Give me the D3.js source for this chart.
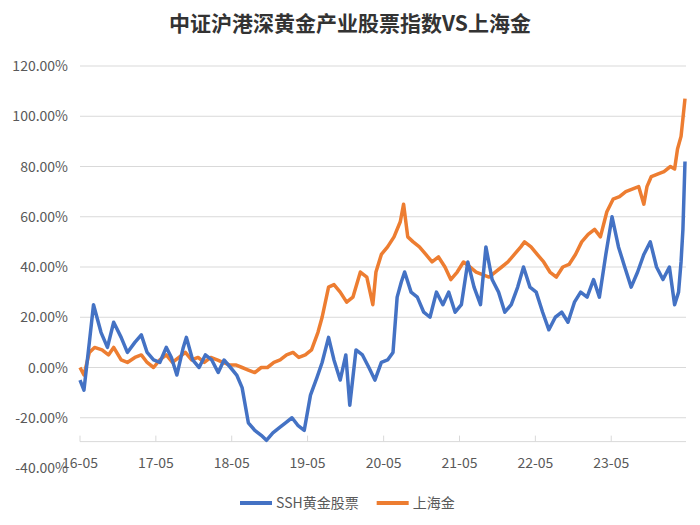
<!DOCTYPE html>
<html><head><meta charset="utf-8">
<script src="https://cdn.jsdelivr.net/npm/d3@7"></script>
<style>body{margin:0;background:#fff;font-family:"Noto Sans CJK SC","Noto Sans",sans-serif;}</style>
</head><body><div id="chart"></div>
<script>
// month keys and values (%)
const ssh = [
["2016-05-01",-5],["2016-05-20",-9],["2016-06-15",10],["2016-07-05",25],["2016-08-10",14],["2016-09-10",8],["2016-10-10",18],["2016-11-15",12],["2016-12-15",6],
["2017-01-20",10],["2017-02-20",13],["2017-03-20",6],["2017-04-20",3],["2017-05-20",2],["2017-06-20",8],["2017-07-15",4],["2017-08-10",-3],["2017-09-10",8],["2017-09-25",12],["2017-10-25",3],["2017-11-25",0],["2017-12-25",5],
["2018-01-25",3],["2018-02-25",-2],["2018-03-25",3],["2018-04-25",0],["2018-05-25",-3],["2018-06-20",-8],["2018-07-20",-22],["2018-08-20",-25],["2018-09-20",-27],["2018-10-15",-29],["2018-11-15",-26],["2018-12-15",-24],
["2019-01-15",-22],["2019-02-15",-20],["2019-03-15",-23],["2019-04-15",-25],["2019-05-15",-11],["2019-06-15",-4],["2019-07-10",2],["2019-08-10",12],["2019-09-05",3],["2019-10-05",-5],["2019-11-01",5],["2019-11-20",-15],["2019-12-20",7],
["2020-01-20",5],["2020-02-20",0],["2020-03-20",-5],["2020-04-20",2],["2020-05-20",3],["2020-06-15",6],["2020-07-05",28],["2020-07-25",34],["2020-08-10",38],["2020-09-10",30],["2020-10-10",28],["2020-11-10",22],["2020-12-10",20],
["2021-01-10",30],["2021-02-10",25],["2021-03-10",30],["2021-04-10",22],["2021-05-10",25],["2021-06-10",42],["2021-07-10",32],["2021-08-10",25],["2021-09-05",48],["2021-10-05",35],["2021-11-05",30],["2021-12-05",22],
["2022-01-05",25],["2022-02-05",32],["2022-03-05",40],["2022-04-05",32],["2022-05-05",30],["2022-06-05",22],["2022-07-05",15],["2022-08-05",20],["2022-09-05",22],["2022-10-05",18],["2022-11-05",26],["2022-12-05",30],
["2023-01-05",28],["2023-02-05",35],["2023-03-05",28],["2023-04-05",45],["2023-05-05",60],["2023-06-05",48],["2023-07-05",40],["2023-08-05",32],["2023-09-05",38],["2023-10-05",45],["2023-11-05",50],["2023-12-05",40],
["2024-01-05",35],["2024-02-05",40],["2024-03-01",25],["2024-03-20",30],["2024-04-01",42],["2024-04-10",55],["2024-04-20",82]
];
const gold = [
["2016-05-01",0],["2016-05-20",-3],["2016-06-15",6],["2016-07-10",8],["2016-08-15",7],["2016-09-15",5],["2016-10-10",8],["2016-11-15",3],["2016-12-15",2],
["2017-01-20",4],["2017-02-20",5],["2017-03-20",2],["2017-04-20",0],["2017-05-20",3],["2017-06-20",5],["2017-07-20",2],["2017-08-20",4],["2017-09-20",6],["2017-10-20",3],["2017-11-20",4],["2017-12-20",2],
["2018-01-20",4],["2018-02-20",3],["2018-03-20",2],["2018-04-20",1],["2018-05-20",1],["2018-06-20",0],["2018-07-20",-1],["2018-08-20",-2],["2018-09-20",0],["2018-10-20",0],["2018-11-20",2],["2018-12-20",3],
["2019-01-20",5],["2019-02-20",6],["2019-03-20",4],["2019-04-20",5],["2019-05-20",7],["2019-06-20",14],["2019-07-10",20],["2019-08-10",32],["2019-09-05",33],["2019-10-05",30],["2019-11-05",26],["2019-12-05",28],
["2020-01-10",38],["2020-02-10",36],["2020-03-10",25],["2020-03-25",38],["2020-04-20",45],["2020-05-20",48],["2020-06-20",52],["2020-07-20",58],["2020-08-05",65],["2020-08-25",52],["2020-09-20",50],["2020-10-20",48],["2020-11-20",45],["2020-12-20",42],
["2021-01-20",44],["2021-02-20",40],["2021-03-20",35],["2021-04-20",38],["2021-05-20",42],["2021-06-20",40],["2021-07-20",38],["2021-08-20",37],["2021-09-20",36],["2021-10-20",38],["2021-11-20",40],["2021-12-20",42],
["2022-01-20",45],["2022-02-20",48],["2022-03-10",50],["2022-04-10",48],["2022-05-10",45],["2022-06-10",42],["2022-07-10",38],["2022-08-10",36],["2022-09-10",40],["2022-10-10",41],["2022-11-10",45],["2022-12-10",50],
["2023-01-10",53],["2023-02-10",55],["2023-03-10",52],["2023-04-10",62],["2023-05-10",67],["2023-06-10",68],["2023-07-10",70],["2023-08-10",71],["2023-09-10",72],["2023-10-05",65],["2023-10-20",72],["2023-11-10",76],["2023-12-10",77],
["2024-01-10",78],["2024-02-10",80],["2024-03-01",79],["2024-03-15",87],["2024-04-01",92],["2024-04-20",107]
];
const xTicks = ["2016-05","2017-05","2018-05","2019-05","2020-05","2021-05","2022-05","2023-05"];
const yTicks = [120,100,80,60,40,20,0,-20,-40];

const W = 700, H = 525;
const parse = d3.timeParse("%Y-%m-%d");
const svg = d3.select("#chart").append("svg").attr("width", W).attr("height", H);

svg.append("text").attr("x", W/2).attr("y", 31).attr("text-anchor","middle")
  .attr("font-size", 21).attr("font-weight","bold").attr("fill","#333")
  .text("中证沪港深黄金产业股票指数VS上海金");

const x = d3.scaleTime().domain([new Date(2016,4,1), new Date(2024,3,20)]).range([80, 685]);
const y = d3.scaleLinear().domain([-40,120]).range([468, 66]);

// gridlines
svg.append("g").selectAll("line").data(yTicks.filter(v => v > -40)).join("line")
  .attr("x1", 80).attr("x2", 686).attr("y1", d => y(d)).attr("y2", d => y(d))
  .attr("stroke","#d9d9d9").attr("stroke-width",1);

svg.append("g").selectAll("text").data(yTicks).join("text")
  .attr("x", 68).attr("y", d => y(d) + 5).attr("text-anchor","end")
  .attr("font-size", 14).attr("fill","#595959")
  .text(d => d.toFixed(2) + "%");

// x axis
const axisY = y(-29.5);
svg.append("line").attr("x1",80).attr("x2",686).attr("y1",axisY).attr("y2",axisY).attr("stroke","#d9d9d9");
const tp = d3.timeParse("%Y-%m");
svg.append("g").selectAll("line").data(xTicks).join("line")
  .attr("x1", d => x(tp(d))).attr("x2", d => x(tp(d))).attr("y1", axisY).attr("y2", axisY - 6)
  .attr("stroke","#d9d9d9");
svg.append("g").selectAll("text").data(xTicks).join("text")
  .attr("x", d => x(tp(d))).attr("y", 468).attr("text-anchor","middle")
  .attr("font-size", 14).attr("fill","#595959")
  .text(d => d3.timeFormat("%y-%m")(tp(d)));

const line = d3.line().x(d => x(parse(d[0]))).y(d => y(d[1])).curve(d3.curveLinear);
const series = [
  {name:"SSH黄金股票", data: ssh, color:"#4472C4"},
  {name:"上海金", data: gold, color:"#ED7D31"}
];
// draw gold first, stocks on top
[series[1], series[0]].forEach(s => {
  svg.append("path").datum(s.data).attr("d", line)
    .attr("fill","none").attr("stroke", s.color).attr("stroke-width", 3.5).attr("stroke-linejoin","round");
});

// legend
const lg = svg.append("g").attr("transform","translate(240,503)");
let lx = 0;
series.forEach(s => {
  lg.append("line").attr("x1",lx).attr("x2",lx+32).attr("y1",0).attr("y2",0).attr("stroke",s.color).attr("stroke-width",4);
  const t = lg.append("text").attr("x",lx+36).attr("y",5).attr("font-size",14).attr("fill","#595959").text(s.name);
  lx += 36 + t.node().getComputedTextLength() + 18;
});
</script></body></html>
